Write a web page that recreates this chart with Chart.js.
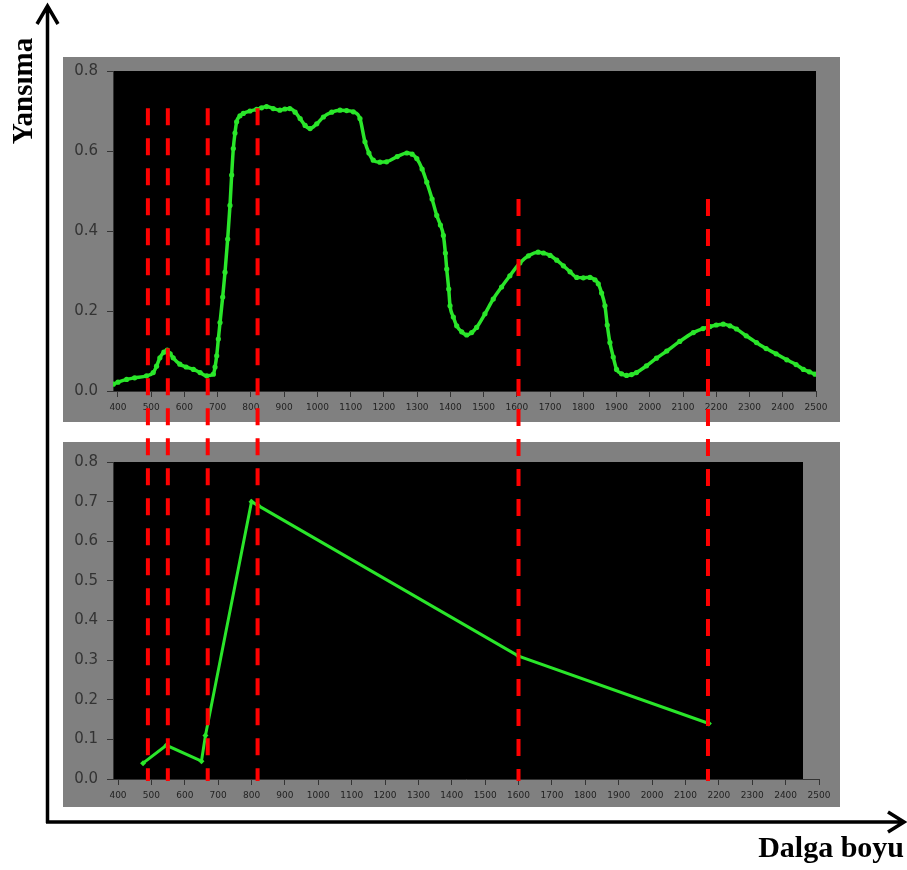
<!DOCTYPE html>
<html lang="tr">
<head>
<meta charset="utf-8">
<title>Yansıma - Dalga boyu</title>
<script src="https://cdn.jsdelivr.net/npm/chart.js@4.4.1/dist/chart.umd.min.js"></script>
<style>
  html, body { margin: 0; padding: 0; background: #fff; }
  #wrap { position: relative; width: 907px; height: 870px; overflow: hidden; }
  canvas { position: absolute; }
  #topChart { left: 63px; top: 57px; }
  #bottomChart { left: 63px; top: 442px; }
  #overlay { left: 0; top: 0; pointer-events: none; }
</style>
</head>
<body>
<div id="wrap">
  <canvas id="topChart" width="777" height="365"></canvas>
  <canvas id="bottomChart" width="777" height="365"></canvas>
  <canvas id="overlay" width="907" height="870"></canvas>
</div>
<script>
// ust panel: surekli yansima egrisi (nm, yansima)
const spectrumWavelengths = [
  386, 400, 426, 450, 486, 506, 516, 526, 538, 548, 557, 566, 586, 605, 627, 647, 667, 687,
  692, 697, 702, 707, 715, 722, 730, 737, 742, 747, 752, 757, 767, 777, 797, 817, 832, 847,
  867, 887, 902, 917, 933, 948, 963, 978, 998, 1018, 1043, 1068, 1088, 1108, 1128, 1143, 1155,
  1168, 1188, 1208, 1240, 1269, 1285, 1299, 1315, 1329, 1345, 1359, 1370, 1379, 1385, 1389,
  1395, 1399, 1409, 1419, 1434, 1449, 1464, 1479, 1504, 1529, 1554, 1579, 1609, 1635, 1664,
  1680, 1700, 1720, 1740, 1760, 1780, 1800, 1820, 1835, 1845, 1855, 1865, 1872, 1880, 1890,
  1900, 1915, 1930, 1945, 1960, 1990, 2020, 2051, 2090, 2131, 2160, 2181, 2200, 2221, 2241,
  2261, 2290, 2321, 2350, 2380, 2412, 2440, 2462, 2480, 2497
];
const spectrumReflectance = [
  0.017, 0.022, 0.029, 0.033, 0.038, 0.046, 0.062, 0.083, 0.097, 0.102, 0.093, 0.083, 0.067, 0.060, 0.054, 0.046, 0.038, 0.042,
  0.060, 0.088, 0.130, 0.171, 0.235, 0.297, 0.380, 0.464, 0.540, 0.606, 0.645, 0.673, 0.688, 0.694, 0.700, 0.704, 0.708, 0.711,
  0.706, 0.702, 0.705, 0.706, 0.697, 0.681, 0.664, 0.656, 0.668, 0.685, 0.697, 0.702, 0.701, 0.698, 0.681, 0.623, 0.595,
  0.577, 0.572, 0.573, 0.586, 0.595, 0.592, 0.581, 0.555, 0.522, 0.480, 0.439, 0.415, 0.389, 0.345, 0.305,
  0.255, 0.213, 0.185, 0.163, 0.148, 0.140, 0.146, 0.159, 0.193, 0.230, 0.260, 0.288, 0.320, 0.338, 0.347,
  0.345, 0.339, 0.327, 0.313, 0.298, 0.284, 0.283, 0.284, 0.278, 0.268, 0.245, 0.213, 0.165, 0.121, 0.085,
  0.054, 0.043, 0.039, 0.041, 0.046, 0.063, 0.082, 0.100, 0.124, 0.146, 0.156, 0.161, 0.165, 0.167, 0.163,
  0.155, 0.138, 0.121, 0.106, 0.093, 0.078, 0.066, 0.054, 0.048, 0.042
];

// alt panel: bantlara indirgenmis yansima
const sampledWavelengths = [475, 545, 650, 662, 800, 820, 1600, 2170];
const sampledReflectance = [0.04, 0.085, 0.045, 0.11, 0.70, 0.69, 0.31, 0.14];

// kirmizi kesikli cizgiler (bant merkezleri) ve ust paneldeki baslangic yansimasi
const bandWavelengths = [490, 550, 670, 820, 1605, 2175];
const bandTops = [0.707, 0.707, 0.707, 0.707, 0.48, 0.48];

const xTicks = [400, 500, 600, 700, 800, 900, 1000, 1100, 1200, 1300, 1400, 1500, 1600, 1700, 1800, 1900, 2000, 2100, 2200, 2300, 2400, 2500];
const topYTicks = [0, 0.2, 0.4, 0.6, 0.8];
const bottomYTicks = [0, 0.1, 0.2, 0.3, 0.4, 0.5, 0.6, 0.7, 0.8];

const yAxisTitle = 'Yansıma';
const xAxisTitle = 'Dalga boyu';

const green = '#2ae62a';
const tickFont = 'DejaVu Sans';

// gri panel + siyah cizim alani
const panelBackground = {
    id: 'panelBackground',
    beforeDraw(chart, args, opts) {
        const ctx = chart.ctx;
        const a = chart.chartArea;
        ctx.save();
        ctx.fillStyle = '#808080';
        ctx.fillRect(0, 0, chart.width, chart.height);
        ctx.fillStyle = '#000';
        ctx.fillRect(a.left, a.top, a.right - a.left - (opts.trimRight || 0), a.bottom - a.top);
        ctx.restore();
    }
};

function xScale(axisHeight) {
    return {
        type: 'linear',
        min: 385,
        max: 2500,
        afterBuildTicks: s => { s.ticks = xTicks.map(v => ({ value: v })); },
        afterFit: s => { s.height = axisHeight; },
        grid: { drawOnChartArea: false, drawTicks: true, tickLength: 6, color: '#333' },
        border: { display: true, color: '#333' },
        ticks: {
            color: '#222',
            font: { family: tickFont, size: 9 },
            padding: 5,
            maxRotation: 0,
            autoSkip: false,
            callback: v => String(v)
        }
    };
}

function yScale(ticks) {
    return {
        min: 0,
        max: 0.8,
        afterBuildTicks: s => { s.ticks = ticks.map(v => ({ value: v })); },
        afterFit: s => {
            s.width = 50;
            // ust/alt bosluk sadece layout.padding ile belirlensin
            s.paddingTop = 0;
            s.paddingBottom = 0;
        },
        grid: { drawOnChartArea: false, drawTicks: true, tickLength: 6, color: '#333' },
        border: { display: true, color: '#333' },
        ticks: {
            color: '#333',
            font: { family: tickFont, size: 15 },
            padding: 9,
            callback: v => Number(v).toFixed(1)
        }
    };
}

Chart.defaults.animation = false;
Chart.defaults.plugins.legend.display = false;
Chart.defaults.plugins.tooltip.enabled = false;

const topChart = new Chart(document.getElementById('topChart'), {
    type: 'line',
    data: {
        datasets: [{
            data: spectrumWavelengths.map((w, i) => ({ x: w, y: spectrumReflectance[i] })),
            borderColor: green,
            backgroundColor: green,
            borderWidth: 3.5,
            pointRadius: 2.6,
            pointBorderWidth: 0,
            cubicInterpolationMode: 'monotone'
        }]
    },
    options: {
        responsive: false,
        layout: { padding: { top: 14, right: 24, left: 0, bottom: 0 } },
        scales: { x: xScale(31), y: yScale(topYTicks) },
        plugins: { panelBackground: { trimRight: 0 } }
    },
    plugins: [panelBackground]
});

const bottomChart = new Chart(document.getElementById('bottomChart'), {
    type: 'line',
    data: {
        datasets: [{
            data: sampledWavelengths.map((w, i) => ({ x: w, y: sampledReflectance[i] })),
            borderColor: green,
            backgroundColor: green,
            borderWidth: 3,
            pointRadius: 3,
            pointStyle: 'rectRot',
            pointBorderWidth: 0
        }]
    },
    options: {
        responsive: false,
        layout: { padding: { top: 20, right: 21, left: 0, bottom: 0 } },
        scales: { x: xScale(28), y: yScale(bottomYTicks) },
        plugins: { panelBackground: { trimRight: 16 } }
    },
    plugins: [panelBackground]
});

// ust katman: dis eksen oklari, basliklar ve kesikli bant cizgileri
const topOffset = { left: 63, top: 57 };
const bottomOffset = { left: 63, top: 442 };
const overlayMin = topChart.scales.x.getValueForPixel(0 - topOffset.left);
const overlayMax = topChart.scales.x.getValueForPixel(907 - topOffset.left);
const bandBottom = bottomOffset.top + bottomChart.scales.y.getPixelForValue(0) + 2;

const outerAxes = {
    id: 'outerAxes',
    afterDraw(chart) {
        const ctx = chart.ctx;
        ctx.save();
        ctx.strokeStyle = '#000';
        ctx.lineWidth = 3.5;
        ctx.lineJoin = 'miter';
        ctx.beginPath();
        ctx.moveTo(47.5, 823);
        ctx.lineTo(47.5, 6);
        ctx.moveTo(37, 24);
        ctx.lineTo(47.5, 6);
        ctx.lineTo(58, 24);
        ctx.moveTo(46, 822);
        ctx.lineTo(903, 822);
        ctx.moveTo(888, 812);
        ctx.lineTo(904, 822);
        ctx.lineTo(888, 832);
        ctx.stroke();

        ctx.fillStyle = '#000';
        ctx.font = 'bold 29px "Liberation Serif"';
        ctx.save();
        ctx.translate(32, 91);
        ctx.rotate(-Math.PI / 2);
        ctx.textAlign = 'center';
        ctx.textBaseline = 'alphabetic';
        ctx.fillText(yAxisTitle, 0, 0);
        ctx.restore();

        ctx.font = 'bold 30px "Liberation Serif"';
        ctx.textAlign = 'right';
        ctx.textBaseline = 'alphabetic';
        ctx.fillText(xAxisTitle, 904, 857);
        ctx.restore();
    }
};

new Chart(document.getElementById('overlay'), {
    type: 'line',
    data: {
        datasets: bandWavelengths.map((w, i) => ({
            data: [
                { x: w, y: topOffset.top + topChart.scales.y.getPixelForValue(bandTops[i]) },
                { x: w, y: bandBottom }
            ],
            borderColor: '#ff0000',
            borderWidth: 4,
            borderDash: [17, 13],
            borderCapStyle: 'butt',
            pointRadius: 0
        }))
    },
    options: {
        responsive: false,
        layout: { padding: 0 },
        scales: {
            x: { type: 'linear', display: false, min: overlayMin, max: overlayMax },
            y: { display: false, min: 0, max: 870, reverse: true }
        }
    },
    plugins: [outerAxes]
});
</script>
</body>
</html>
